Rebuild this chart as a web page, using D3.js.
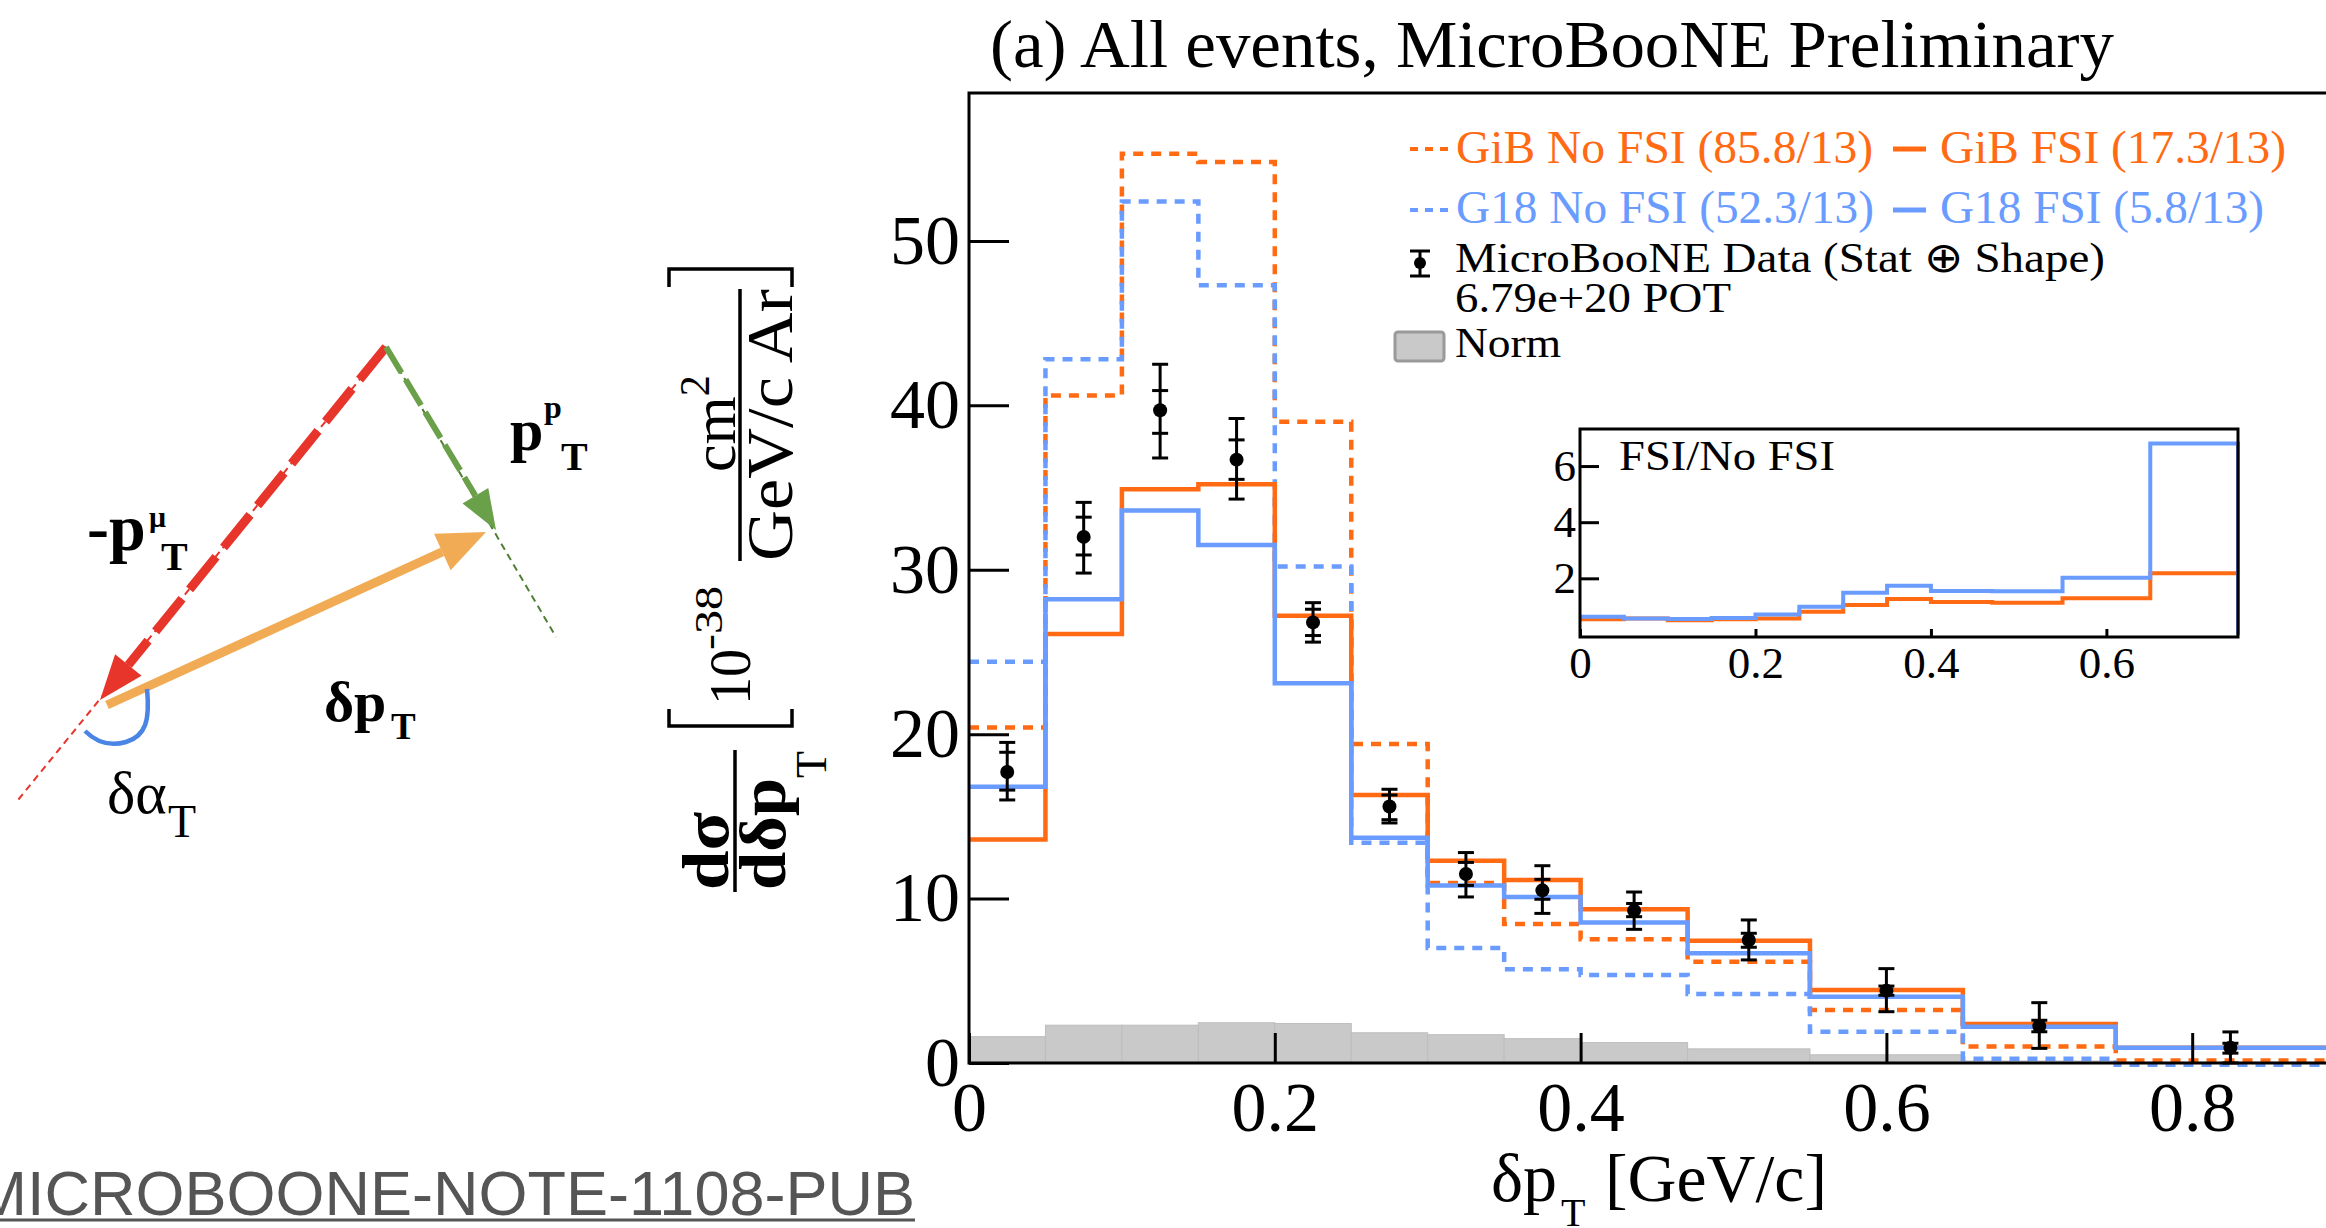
<!DOCTYPE html>
<html>
<head>
<meta charset="utf-8">
<script src="https://cdn.jsdelivr.net/npm/d3@7"></script>
<style>
  html, body { margin: 0; padding: 0; background: #fff; }
  svg { display: block; }
  .serif { font-family: "Liberation Serif", "Times New Roman", serif; }
</style>
</head>
<body>
<svg id="chart" width="2326" height="1228"></svg>
<script>
// bins of delta pT [GeV/c]
var binEdges = [0, 0.05, 0.1, 0.15, 0.2, 0.25, 0.3, 0.35, 0.4, 0.47, 0.55, 0.65, 0.75, 0.9];

// cross sections, 10^-38 cm2 / (GeV/c Ar)
var gibNoFsi = [20.4, 40.6, 55.3, 54.8, 39.0, 19.4, 10.95, 8.45, 7.52, 6.16, 3.22, 1.0, 0.15];
var gibFsi   = [13.6, 26.1, 34.9, 35.2, 27.2, 16.3, 12.3, 11.13, 9.35, 7.44, 4.44, 2.37, 0.93];
var g18NoFsi = [24.4, 42.8, 52.4, 47.3, 30.2, 13.4, 7.0, 5.7, 5.35, 4.2, 1.9, 0.26, -0.1];
var g18Fsi   = [16.8, 28.2, 33.6, 31.5, 23.1, 13.7, 10.8, 10.1, 8.54, 6.67, 4.03, 2.21, 0.93];
var normUnc  = [1.6, 2.3, 2.3, 2.45, 2.4, 1.84, 1.72, 1.48, 1.24, 0.86, 0.5, 0.12, 0.05];

// MicroBooNE data
var dataVal  = [17.7, 32.0, 39.7, 36.7, 26.8, 15.6, 11.5, 10.5, 9.27, 7.48, 4.4, 2.25, 0.93];
var totLow   = [16.0, 29.8, 36.8, 34.3, 25.6, 14.6, 10.1, 9.1, 8.13, 6.27, 3.12, 0.89, 0.0];
var totHigh  = [19.5, 34.1, 42.5, 39.2, 28.0, 16.65, 12.8, 12.0, 10.4, 8.7, 5.74, 3.67, 1.89];
var statLow  = [16.6, 30.9, 38.3, 35.5, 26.0, 14.8, 10.8, 9.96, 8.9, 7.04, 4.12, 1.9, 0.6];
var statHigh = [18.9, 33.2, 40.9, 37.9, 27.6, 16.3, 12.2, 11.17, 9.7, 7.89, 4.68, 2.6, 1.2];

// inset: FSI / No FSI ratio (first 12 bins)
var ratioGib = [0.54, 0.57, 0.51, 0.54, 0.57, 0.81, 1.05, 1.26, 1.16, 1.13, 1.29, 2.18];
var ratioG18 = [0.63, 0.57, 0.55, 0.59, 0.71, 0.99, 1.49, 1.74, 1.55, 1.54, 2.02, 6.8];

var yTicks = [0, 10, 20, 30, 40, 50];
var xTicks = [0, 0.2, 0.4, 0.6, 0.8];
var insetYTicks = [2, 4, 6];
var insetXTicks = [0, 0.2, 0.4, 0.6];

var ORANGE = "#ff6a12", BLUE = "#6a9cff", GREY = "#c9c9c9";
var SERIF = "Liberation Serif, Times New Roman, serif";

var svg = d3.select("#chart");
svg.append("rect").attr("width", 2326).attr("height", 1228).attr("fill", "#fff");

var x = d3.scaleLinear().domain([0, 1]).range([969, 2498]);
var y = d3.scaleLinear().domain([0, 59]).range([1063, 93]);

function stepPoints(vals, edges) {
    return edges.map(function (e, i) { return [e, vals[Math.min(i, vals.length - 1)]]; });
}

var g = svg.append("g");

// norm band
g.selectAll("rect.norm")
    .data(normUnc)
    .enter().append("rect")
    .attr("class", "norm")
    .attr("x", function (d, i) { return x(binEdges[i]); })
    .attr("width", function (d, i) { return x(binEdges[i + 1]) - x(binEdges[i]); })
    .attr("y", function (d) { return y(d); })
    .attr("height", function (d) { return y(0) - y(d); })
    .attr("fill", GREY)
    .attr("stroke", "#bdbdbd")
    .attr("stroke-width", 1);

var line = d3.line()
    .x(function (d) { return x(d[0]); })
    .y(function (d) { return y(d[1]); })
    .curve(d3.curveStepAfter);

var series = [
    { vals: gibNoFsi, color: ORANGE, dash: "10,8" },
    { vals: g18NoFsi, color: BLUE, dash: "10,8" },
    { vals: gibFsi, color: ORANGE, dash: null },
    { vals: g18Fsi, color: BLUE, dash: null }
];
series.forEach(function (s) {
    g.append("path")
        .datum(stepPoints(s.vals, binEdges))
        .attr("fill", "none")
        .attr("stroke", s.color)
        .attr("stroke-width", s.dash ? 4.5 : 4.5)
        .attr("stroke-dasharray", s.dash)
        .attr("d", line);
});

// data points
var centers = dataVal.map(function (d, i) { return (binEdges[i] + binEdges[i + 1]) / 2; });
var pts = g.selectAll("g.pt").data(dataVal).enter().append("g").attr("class", "pt");
pts.append("line")
    .attr("x1", function (d, i) { return x(centers[i]); })
    .attr("x2", function (d, i) { return x(centers[i]); })
    .attr("y1", function (d, i) { return y(totLow[i]); })
    .attr("y2", function (d, i) { return y(totHigh[i]); })
    .attr("stroke", "#000").attr("stroke-width", 3);
[totLow, totHigh, statLow, statHigh].forEach(function (arr) {
    pts.append("line")
        .attr("x1", function (d, i) { return x(centers[i]) - 8; })
        .attr("x2", function (d, i) { return x(centers[i]) + 8; })
        .attr("y1", function (d, i) { return y(arr[i]); })
        .attr("y2", function (d, i) { return y(arr[i]); })
        .attr("stroke", "#000").attr("stroke-width", 3);
});
pts.append("circle")
    .attr("cx", function (d, i) { return x(centers[i]); })
    .attr("cy", function (d) { return y(d); })
    .attr("r", 7)
    .attr("fill", "#000");

// frame
g.append("path")
    .attr("d", "M2326,93 H969 V1063 H2326")
    .attr("fill", "none").attr("stroke", "#000").attr("stroke-width", 3);

var yAxis = g.append("g")
    .attr("transform", "translate(969,0)")
    .call(d3.axisLeft(y).tickValues(yTicks).tickSize(-40).tickPadding(9).tickSizeOuter(0));
var xAxis = g.append("g")
    .attr("transform", "translate(0,1063)")
    .call(d3.axisBottom(x).tickValues(xTicks).tickSize(-30).tickPadding(18).tickSizeOuter(0)
        .tickFormat(function (d) { return d === 0 ? "0" : d3.format(".1f")(d); }));
[yAxis, xAxis].forEach(function (a) {
    a.select(".domain").remove();
    a.selectAll(".tick line").attr("stroke-width", 3);
    a.selectAll("text").attr("font-family", SERIF).attr("font-size", 70).attr("fill", "#000");
});

// inset
var xi = d3.scaleLinear().domain([0, 0.75]).range([1580, 2238]);
var yi = d3.scaleLinear().domain([-0.09, 7.32]).range([637, 429]);
var ig = svg.append("g");
ig.append("rect").attr("x", 1580).attr("y", 429).attr("width", 658).attr("height", 208)
    .attr("fill", "#fff");
var iline = d3.line()
    .x(function (d) { return xi(d[0]); })
    .y(function (d) { return yi(d[1]); })
    .curve(d3.curveStepAfter);
var insetEdges = binEdges.slice(0, 13);
[{ vals: ratioGib, color: ORANGE }, { vals: ratioG18, color: BLUE }].forEach(function (s) {
    var p = stepPoints(s.vals, insetEdges);
    p.push([0.75, 0]);
    ig.append("path").datum(p)
        .attr("fill", "none").attr("stroke", s.color).attr("stroke-width", 4)
        .attr("d", iline);
});
ig.append("rect").attr("x", 1580).attr("y", 429).attr("width", 658).attr("height", 208)
    .attr("fill", "none").attr("stroke", "#000").attr("stroke-width", 3);
var iy = ig.append("g").attr("transform", "translate(1580,0)")
    .call(d3.axisLeft(yi).tickValues(insetYTicks).tickSize(-19).tickPadding(4).tickSizeOuter(0));
var ix = ig.append("g").attr("transform", "translate(0,637)")
    .call(d3.axisBottom(xi).tickValues(insetXTicks).tickSize(-8).tickPadding(9).tickSizeOuter(0)
        .tickFormat(function (d) { return d === 0 ? "0" : d3.format(".1f")(d); }));
[iy, ix].forEach(function (a) {
    a.select(".domain").remove();
    a.selectAll(".tick line").attr("stroke-width", 3);
    a.selectAll("text").attr("font-family", SERIF).attr("font-size", 45).attr("fill", "#000");
});
ig.append("text").attr("class", "serif").attr("x", 1619).attr("y", 470)
    .attr("font-size", 42).attr("textLength", 216).attr("lengthAdjust", "spacingAndGlyphs")
    .text("FSI/No FSI");

// title
svg.append("text").attr("class", "serif").attr("x", 990).attr("y", 67)
    .attr("font-size", 67).attr("textLength", 1124).attr("lengthAdjust", "spacingAndGlyphs")
    .text("(a) All events, MicroBooNE Preliminary");

// legend
var lg = svg.append("g").attr("class", "serif");
function legText(tx, ty, size, len, str, color) {
    lg.append("text").attr("x", tx).attr("y", ty).attr("font-size", size)
        .attr("textLength", len).attr("lengthAdjust", "spacingAndGlyphs")
        .attr("fill", color).text(str);
}
function legLine(x1, x2, ly, color, dash) {
    lg.append("line").attr("x1", x1).attr("x2", x2).attr("y1", ly).attr("y2", ly)
        .attr("stroke", color).attr("stroke-width", dash ? 4 : 5).attr("stroke-dasharray", dash);
}
legLine(1410, 1449, 149, ORANGE, "8,7");
legText(1456, 163, 47, 417, "GiB No FSI (85.8/13)", ORANGE);
legLine(1893, 1926, 149, ORANGE, null);
legText(1940, 163, 47, 346, "GiB FSI (17.3/13)", ORANGE);
legLine(1410, 1449, 210, BLUE, "8,7");
legText(1456, 223, 47, 418, "G18 No FSI (52.3/13)", BLUE);
legLine(1893, 1926, 210, BLUE, null);
legText(1940, 223, 47, 324, "G18 FSI (5.8/13)", BLUE);
lg.append("line").attr("x1", 1420).attr("x2", 1420).attr("y1", 251).attr("y2", 276)
    .attr("stroke", "#000").attr("stroke-width", 3);
[251, 276].forEach(function (cy) {
    lg.append("line").attr("x1", 1410).attr("x2", 1430).attr("y1", cy).attr("y2", cy)
        .attr("stroke", "#000").attr("stroke-width", 3);
});
lg.append("circle").attr("cx", 1420).attr("cy", 263).attr("r", 6).attr("fill", "#000");
legText(1455, 272, 42, 650, "MicroBooNE Data (Stat \u2295 Shape)", "#000");
legText(1455, 312, 42, 276, "6.79e+20 POT", "#000");
lg.append("rect").attr("x", 1395).attr("y", 332).attr("width", 49).attr("height", 29)
    .attr("rx", 3).attr("fill", GREY).attr("stroke", "#9a9a9a").attr("stroke-width", 3);
legText(1455, 357, 42, 106, "Norm", "#000");

// x axis title
var xt = svg.append("g").attr("class", "serif");
xt.append("text").attr("x", 1491).attr("y", 1201).attr("font-size", 68).text("\u03b4p");
xt.append("text").attr("x", 1561).attr("y", 1226).attr("font-size", 40).text("T");
xt.append("text").attr("x", 1605).attr("y", 1201).attr("font-size", 68)
    .attr("textLength", 222).attr("lengthAdjust", "spacingAndGlyphs").text("[GeV/c]");

// y axis title (rotated): local x = -pageY, local y = pageX
var yt = svg.append("g").attr("class", "serif").attr("transform", "rotate(-90)");
yt.append("text").attr("x", -890).attr("y", 728).attr("font-size", 66).attr("font-weight", "bold")
    .attr("textLength", 78).attr("lengthAdjust", "spacingAndGlyphs").text("d\u03c3");
yt.append("line").attr("x1", -892).attr("x2", -750).attr("y1", 735).attr("y2", 735)
    .attr("stroke", "#000").attr("stroke-width", 3.5);
yt.append("text").attr("x", -890).attr("y", 785).attr("font-size", 66).attr("font-weight", "bold")
    .attr("textLength", 112).attr("lengthAdjust", "spacingAndGlyphs").text("d\u03b4p");
yt.append("text").attr("x", -778).attr("y", 826).attr("font-size", 44).text("T");
yt.append("text").attr("x", -705).attr("y", 750).attr("font-size", 60)
    .attr("textLength", 56).attr("lengthAdjust", "spacingAndGlyphs").text("10");
yt.append("text").attr("x", -650).attr("y", 722).attr("font-size", 40)
    .attr("textLength", 64).attr("lengthAdjust", "spacingAndGlyphs").text("-38");
yt.append("line").attr("x1", -561).attr("x2", -289).attr("y1", 740).attr("y2", 740)
    .attr("stroke", "#000").attr("stroke-width", 3.5);
var cm = yt.append("text").attr("x", -472).attr("y", 735).attr("font-size", 62);
cm.append("tspan").text("cm");
cm.append("tspan").attr("dy", -26).attr("font-size", 42).text("2");
yt.append("text").attr("x", -561).attr("y", 792).attr("font-size", 66)
    .attr("textLength", 272).attr("lengthAdjust", "spacingAndGlyphs").text("GeV/c Ar");
svg.append("path").attr("d", "M669,709 V726 H792 V709")
    .attr("fill", "none").attr("stroke", "#000").attr("stroke-width", 3.5);
svg.append("path").attr("d", "M669,287 V269 H792 V287")
    .attr("fill", "none").attr("stroke", "#000").attr("stroke-width", 3.5);

// kinematics sketch
var apex = [386, 347];
var dg = svg.append("g");
function arrowHead(tip, from, len, half, color) {
    var dx = tip[0] - from[0], dy = tip[1] - from[1], l = Math.sqrt(dx * dx + dy * dy);
    var ux = dx / l, uy = dy / l;
    var bx = tip[0] - len * ux, by = tip[1] - len * uy;
    dg.append("path")
        .attr("d", "M" + tip + "L" + [bx + half * uy, by - half * ux] + "L" + [bx - half * uy, by + half * ux] + "Z")
        .attr("fill", color);
    return [bx, by];
}
// red: -p_T^mu
dg.append("line").attr("x1", apex[0]).attr("y1", apex[1]).attr("x2", 18).attr("y2", 800)
    .attr("stroke", "#e8352b").attr("stroke-width", 2).attr("stroke-dasharray", "7,5");
var rb = arrowHead([100, 700], apex, 45, 17, "#e8352b");
dg.append("line").attr("x1", apex[0]).attr("y1", apex[1]).attr("x2", rb[0]).attr("y2", rb[1])
    .attr("stroke", "#e8352b").attr("stroke-width", 9).attr("stroke-dasharray", "42,12");
// green: p_T^p
dg.append("line").attr("x1", apex[0]).attr("y1", apex[1]).attr("x2", 556).attr("y2", 637)
    .attr("stroke", "#4f7f35").attr("stroke-width", 2).attr("stroke-dasharray", "7,5");
var gb = arrowHead([496, 530], apex, 40, 15, "#6aa04a");
dg.append("line").attr("x1", apex[0]).attr("y1", apex[1]).attr("x2", gb[0]).attr("y2", gb[1])
    .attr("stroke", "#6aa04a").attr("stroke-width", 6).attr("stroke-dasharray", "30,8");
// orange: delta p_T
var ob = arrowHead([486, 532], [107, 705], 48, 20, "#f2ab55");
dg.append("line").attr("x1", 107).attr("y1", 705).attr("x2", ob[0]).attr("y2", ob[1])
    .attr("stroke", "#f2ab55").attr("stroke-width", 9);
// angle
dg.append("path").attr("d", "M147,689 C150,720 146,736 126,742 C108,747 95,741 85,731")
    .attr("fill", "none").attr("stroke", "#4a85e6").attr("stroke-width", 4.5);

var lb = dg.append("g").attr("class", "serif").attr("font-weight", "bold");
lb.append("text").attr("x", 87).attr("y", 550).attr("font-size", 66).text("-p");
lb.append("text").attr("x", 149).attr("y", 527).attr("font-size", 30).text("\u03bc");
lb.append("text").attr("x", 161).attr("y", 570).attr("font-size", 40).text("T");
lb.append("text").attr("x", 510).attr("y", 450).attr("font-size", 60).text("p");
lb.append("text").attr("x", 544).attr("y", 418).attr("font-size", 32).text("p");
lb.append("text").attr("x", 561).attr("y", 470).attr("font-size", 40).text("T");
lb.append("text").attr("x", 324).attr("y", 721).attr("font-size", 58).text("\u03b4p");
lb.append("text").attr("x", 391).attr("y", 739).attr("font-size", 37).text("T");
var la = dg.append("g").attr("class", "serif");
la.append("text").attr("x", 107).attr("y", 813).attr("font-size", 60).text("\u03b4\u03b1");
la.append("text").attr("x", 168).attr("y", 837).attr("font-size", 46).text("T");

// note reference
svg.append("text").attr("x", 915).attr("y", 1215).attr("text-anchor", "end")
    .attr("font-family", "Liberation Sans, Arial, sans-serif").attr("font-size", 63)
    .attr("fill", "#555").text("MICROBOONE-NOTE-1108-PUB");
svg.append("line").attr("x1", 0).attr("x2", 915).attr("y1", 1220).attr("y2", 1220)
    .attr("stroke", "#555").attr("stroke-width", 3);
</script>
</body>
</html>
